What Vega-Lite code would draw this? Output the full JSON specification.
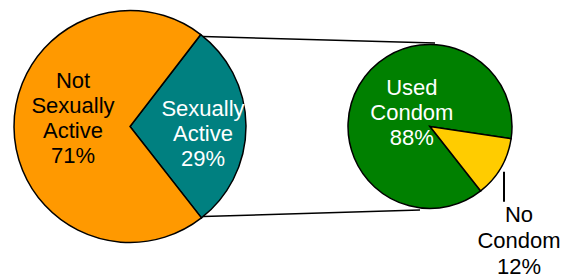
{
  "$schema": "https://vega.github.io/schema/vega-lite/v6.json",
  "width": 563,
  "height": 253,
  "autosize": "none",
  "padding": {"left": 0, "top": 0, "right": 0, "bottom": 21},
  "background": "white",
  "config": {"view": {"stroke": null}},
  "datasets": {
    "overall": [
      {"group": "All students", "category": "Sexually Active", "pct": 29, "label": "Sexually\nActive\n29%"},
      {"group": "All students", "category": "Not Sexually Active", "pct": 71, "label": "Not\nSexually\nActive\n71%"}
    ],
    "active": [
      {"group": "Sexually active students", "category": "Used Condom", "pct": 88, "label": "Used\nCondom\n88%"},
      {"group": "Sexually active students", "category": "No Condom", "pct": 12, "label": "No\nCondom\n12%"}
    ]
  },
  "layer": [
    {
      "data": {"name": "overall"},
      "encoding": {
        "theta": {"field": "pct", "type": "quantitative", "stack": true, "scale": {"domain": [0, 100], "range": [0.656, 6.939]}},
        "order": {"field": "pct", "sort": "ascending"},
        "x": {"field": "group", "type": "nominal", "axis": null, "scale": {"type": "point", "padding": 0, "domain": ["All students", "Sexually active students"], "range": [130, 430]}}
      },
      "layer": [
        {
          "mark": {"type": "arc", "outerRadius": 116, "stroke": "black", "strokeWidth": 1.5},
          "encoding": {
            "color": {"field": "category", "type": "nominal", "legend": null,
              "scale": {"domain": ["Not Sexually Active", "Sexually Active", "Used Condom", "No Condom"], "range": ["#FF9900", "#008080", "#008000", "#FFCC00"]}}
          }
        },
        {
          "mark": {"type": "text", "radius": 57, "dy": -46, "font": "Liberation Sans", "fontSize": 22, "lineHeight": 25, "lineBreak": "\n", "align": "center", "baseline": "middle", "color": "black"},
          "encoding": {"text": {"condition": {"test": "datum.category === 'Not Sexually Active'", "field": "label"}, "value": ""}}
        },
        {
          "mark": {"type": "text", "radius": 73, "dy": -17.5, "font": "Liberation Sans", "fontSize": 22, "lineHeight": 25, "lineBreak": "\n", "align": "center", "baseline": "middle", "color": "white"},
          "encoding": {"text": {"condition": {"test": "datum.category === 'Sexually Active'", "field": "label"}, "value": ""}}
        }
      ]
    },
    {
      "data": {"name": "active"},
      "encoding": {
        "theta": {"field": "pct", "type": "quantitative", "stack": true, "scale": {"domain": [0, 100], "range": [1.721, 8.004]}},
        "order": {"field": "pct", "sort": "ascending"},
        "x": {"field": "group", "type": "nominal", "axis": null, "scale": {"type": "point", "padding": 0, "domain": ["All students", "Sexually active students"], "range": [130, 430]}}
      },
      "layer": [
        {
          "mark": {"type": "arc", "outerRadius": 82, "stroke": "black", "strokeWidth": 1.5},
          "encoding": {
            "color": {"field": "category", "type": "nominal", "legend": null,
              "scale": {"domain": ["Not Sexually Active", "Sexually Active", "Used Condom", "No Condom"], "range": ["#FF9900", "#008080", "#008000", "#FFCC00"]}}
          }
        },
        {
          "mark": {"type": "text", "radius": 21, "dy": -28, "font": "Liberation Sans", "fontSize": 22, "lineHeight": 25, "lineBreak": "\n", "align": "center", "baseline": "middle", "color": "white"},
          "encoding": {"text": {"condition": {"test": "datum.category === 'Used Condom'", "field": "label"}, "value": ""}}
        },
        {
          "mark": {"type": "text", "radius": 103, "dy": 37, "font": "Liberation Sans", "fontSize": 22, "lineHeight": 26, "lineBreak": "\n", "align": "center", "baseline": "middle", "color": "black"},
          "encoding": {"text": {"condition": {"test": "datum.category === 'No Condom'", "field": "label"}, "value": ""}}
        }
      ]
    },
    {
      "data": {"values": [{"connector": "Sexually Active breakdown"}]},
      "layer": [
        {
          "mark": {"type": "rule", "color": "black", "strokeWidth": 1.5},
          "encoding": {
            "x": {"datum": 203, "type": "quantitative", "axis": null, "scale": {"domain": [0, 563], "range": [0, 563], "nice": false, "zero": false}},
            "y": {"datum": 36.5, "type": "quantitative", "axis": null, "scale": {"domain": [0, 253], "range": [0, 253], "nice": false, "zero": false}},
            "x2": {"datum": 435},
            "y2": {"datum": 43}
          }
        },
        {
          "mark": {"type": "rule", "color": "black", "strokeWidth": 1.5},
          "encoding": {
            "x": {"datum": 203, "type": "quantitative"},
            "y": {"datum": 216.5, "type": "quantitative"},
            "x2": {"datum": 420},
            "y2": {"datum": 210}
          }
        },
        {
          "mark": {"type": "rule", "color": "black", "strokeWidth": 2},
          "encoding": {
            "x": {"datum": 504, "type": "quantitative"},
            "y": {"datum": 171.7, "type": "quantitative"},
            "y2": {"datum": 201.7}
          }
        }
      ]
    }
  ],
  "resolve": {"scale": {"theta": "independent", "x": "independent", "y": "independent", "color": "shared"}}
}
